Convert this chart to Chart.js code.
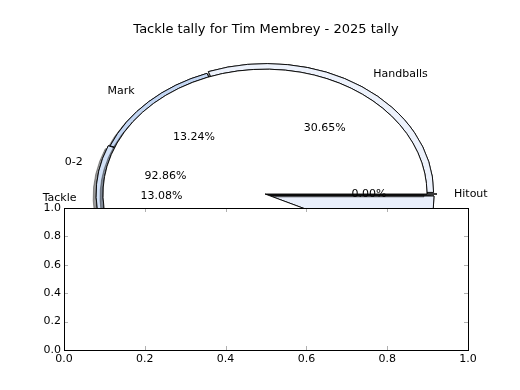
<!DOCTYPE html>
<html>
<head>
<meta charset="utf-8">
<script src="https://cdn.jsdelivr.net/npm/chart.js@4.4.1/dist/chart.umd.min.js"></script>
<style>
  html, body { margin: 0; padding: 0; background: #fff; }
  #wrap { position: relative; width: 520px; height: 390px; }
  #wrap canvas { position: absolute; left: 0; top: 0; }
</style>
</head>
<body>
<div id="wrap">
  <canvas id="pieA" width="520" height="390"></canvas>
  <canvas id="pieB" width="520" height="390"></canvas>
  <canvas id="axes" width="520" height="390"></canvas>
</div>
<script>
const chartTitle = "Tackle tally for Tim Membrey - 2025 tally";

// outer pie, listed counter-clockwise from 3 o'clock (as matplotlib draws it)
const statLabels = ["Handballs", "Mark", "Tackle", "Kick", "Hitout"];
const statShares = [30.65, 13.24, 13.08, 43.03, 0.0];
const statColors = ["#edf2fc", "#c3d6f3", "#d2e1f7", "#e9effb", "#dce8f8"];
const statExplode = [10, 0, 6, 10, 8];

// white pie drawn over it: a single partial wedge
const rangeLabels = ["0-2"];
const rangeShares = [0.9286];

// the empty axes underneath
const axisTicks = [0.0, 0.2, 0.4, 0.6, 0.8, 1.0];

Chart.defaults.font.family = '"DejaVu Sans", sans-serif';
Chart.defaults.color = "#000";

const SQUASH = 131 / 170;   // the pie is drawn as an ellipse
const LABEL_R = 170;

// squeeze the arcs vertically; shadows go underneath every wedge
const squash = {
  id: "squash",
  beforeDatasetsDraw(chart) {
    const ctx = chart.ctx;
    const arcs = chart.getDatasetMeta(0).data;
    ctx.save();
    ctx.translate(arcs[0].x, arcs[0].y);
    ctx.scale(1, SQUASH);
    ctx.translate(-arcs[0].x, -arcs[0].y);
    ctx.save();
    ctx.shadowColor = "rgba(0,0,0,0.4)";
    ctx.shadowOffsetX = -3;
    ctx.shadowOffsetY = 3;
    arcs.forEach((arc) => arc.draw(ctx));
    ctx.restore();
  },
  afterDatasetsDraw(chart) {
    const ctx = chart.ctx;
    // zero wedges still show up as a radial line
    chart.getDatasetMeta(0).data.forEach((arc) => {
      if (arc.circumference !== 0) return;
      const off = (arc.options.offset || 0) / 4;
      const c = Math.cos(arc.startAngle), s = Math.sin(arc.startAngle);
      ctx.save();
      ctx.shadowColor = "rgba(0,0,0,0.5)";
      ctx.shadowOffsetX = -3;
      ctx.shadowOffsetY = 1;
      ctx.beginPath();
      ctx.moveTo(arc.x + c * off, arc.y + s * off);
      ctx.lineTo(arc.x + c * (arc.outerRadius + off + 3), arc.y + s * (arc.outerRadius + off + 3));
      ctx.lineWidth = 2.5;
      ctx.strokeStyle = "#3a3a3a";
      ctx.stroke();
      ctx.restore();
    });
    ctx.restore();
  },
};

function drawPieText(ctx, chart, fmt) {
  const values = chart.data.datasets[0].data;
  ctx.save();
  ctx.font = '11px "DejaVu Sans"';
  ctx.fillStyle = "#000";
  ctx.textBaseline = "middle";
  chart.getDatasetMeta(0).data.forEach((arc, i) => {
    const mid = (arc.startAngle + arc.endAngle) / 2;
    const c = Math.cos(mid), s = Math.sin(mid);
    const off = (arc.options.offset || 0) / 4;
    const ox = arc.x + c * off, oy = arc.y + s * off * SQUASH;
    ctx.textAlign = c < -1e-9 ? "right" : (c > 1e-9 ? "left" : "center");
    ctx.fillText(chart.data.labels[i], ox + 1.1 * LABEL_R * c, oy + 1.1 * LABEL_R * SQUASH * s);
    ctx.textAlign = "center";
    ctx.fillText(fmt(values[i], values), ox + 0.6 * LABEL_R * c, oy + 0.6 * LABEL_R * SQUASH * s);
  });
  ctx.restore();
}

const pieLayout = { padding: { left: 10, right: 0, top: 0, bottom: 2 } };
const quiet = { legend: { display: false }, tooltip: { enabled: false } };

// Chart.js goes clockwise, so feed the outer pie in reverse
const rev = (a) => a.slice().reverse();
const pieA = new Chart(document.getElementById("pieA"), {
  type: "pie",
  data: {
    labels: rev(statLabels),
    datasets: [{
      data: rev(statShares),
      backgroundColor: rev(statColors),
      offset: rev(statExplode),
      borderColor: "#000",
      borderWidth: 1,
    }],
  },
  options: {
    responsive: false,
    animation: false,
    events: [],
    rotation: 90,
    radius: 167,
    layout: pieLayout,
    plugins: quiet,
  },
  plugins: [squash],
});

// texts of both pies sit above both sets of wedges
const allText = {
  id: "allText",
  afterDraw(chart) {
    drawPieText(chart.ctx, pieA, (v, all) => (100 * v / all.reduce((a, b) => a + b, 0)).toFixed(2) + "%");
    drawPieText(chart.ctx, chart, (v) => (v * 100).toFixed(2) + "%");
  },
};

new Chart(document.getElementById("pieB"), {
  type: "pie",
  data: {
    labels: rangeLabels,
    datasets: [{
      data: rangeShares,
      backgroundColor: "#fff",
      borderColor: "#000",
      borderWidth: 1,
    }],
  },
  options: {
    responsive: false,
    animation: false,
    events: [],
    rotation: 90 + (1 - rangeShares[0]) * 360,
    circumference: rangeShares[0] * 360,
    radius: 162,
    layout: pieLayout,
    plugins: quiet,
  },
  plugins: [squash, allText],
});

// white axes box with inward ticks on all four sides
const frame = {
  id: "frame",
  beforeDraw(chart) {
    const { ctx, chartArea: a } = chart;
    ctx.save();
    ctx.fillStyle = "#fff";
    ctx.fillRect(a.left, a.top, a.width, a.height);
    ctx.restore();
  },
  afterDraw(chart) {
    const { ctx, chartArea: a, scales } = chart;
    ctx.save();
    ctx.strokeStyle = "#b0b0b0";
    ctx.lineWidth = 1;
    ctx.beginPath();
    scales.x.ticks.forEach((t) => {
      const px = Math.round(scales.x.getPixelForValue(t.value)) + 0.5;
      ctx.moveTo(px, a.bottom); ctx.lineTo(px, a.bottom - 4);
      ctx.moveTo(px, a.top); ctx.lineTo(px, a.top + 4);
    });
    scales.y.ticks.forEach((t) => {
      const py = Math.round(scales.y.getPixelForValue(t.value)) + 0.5;
      ctx.moveTo(a.left, py); ctx.lineTo(a.left + 4, py);
      ctx.moveTo(a.right, py); ctx.lineTo(a.right - 4, py);
    });
    ctx.stroke();
    ctx.strokeStyle = "#000";
    ctx.strokeRect(Math.round(a.left) + 0.5, Math.round(a.top) + 0.5,
      Math.round(a.width), Math.round(a.height));
    ctx.restore();
  },
};

const axisOpts = (fit) => ({
  type: "linear",
  min: 0,
  max: 1,
  afterBuildTicks: (s) => { s.ticks = axisTicks.map((v) => ({ value: v })); },
  afterFit: fit,
  ticks: { callback: (v) => v.toFixed(1), color: "#000", font: { size: 11 }, padding: 3, maxRotation: 0 },
  grid: { display: false, drawTicks: false },
  border: { display: false },
});

new Chart(document.getElementById("axes"), {
  type: "scatter",
  data: { datasets: [] },
  options: {
    responsive: false,
    animation: false,
    events: [],
    layout: { padding: { left: 0, right: 52, top: 0, bottom: 0 } },
    plugins: {
      legend: { display: false },
      tooltip: { enabled: false },
      title: {
        display: true,
        text: chartTitle,
        fullSize: false,
        color: "#000",
        font: { size: 13, weight: "normal" },
        padding: { top: 22, bottom: 170.4 },
      },
    },
    scales: {
      x: axisOpts((s) => { s.height = 40; }),
      y: axisOpts((s) => { s.width = 64; }),
    },
  },
  plugins: [frame],
});
</script>
</body>
</html>
